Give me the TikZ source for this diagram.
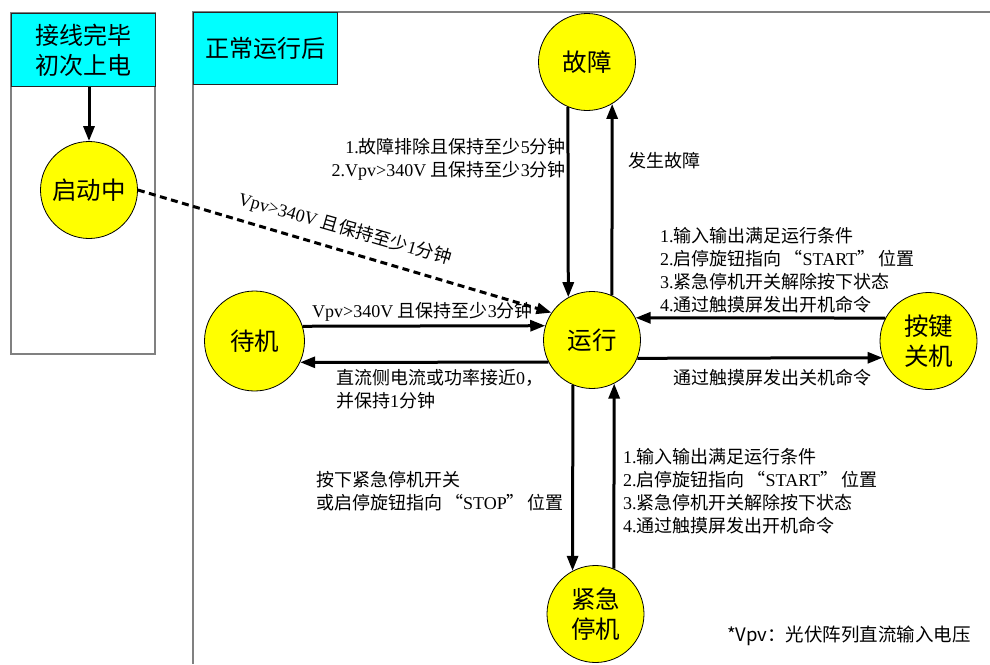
\documentclass[tikz,border=0pt]{standalone}
\usepackage{fontspec}
\setmainfont{Liberation Serif}
\newfontfamily\cjk{Noto Sans CJK SC}
\usetikzlibrary{arrows.meta}
\definecolor{stcyan}{HTML}{00FFFF}
\definecolor{styellow}{HTML}{FFFF00}
\definecolor{framegray}{HTML}{808080}
\tikzset{
  st/.style={circle,draw=black,line width=0.8pt,fill=styellow,inner sep=0pt,
    minimum size=97pt,font=\fontsize{24.5}{30}\selectfont\cjk,align=center},
  arr/.style={line width=3pt,-{Triangle[length=15pt,width=11pt]}},
  dasharr/.style={line width=3pt,dash pattern=on 7pt off 4.5pt,-{Triangle[length=15pt,width=11pt]}},
  lbl/.style={inner sep=0pt,font=\fontsize{18}{23}\selectfont,align=left},
  hdr/.style={draw=black!85,line width=1pt,fill=stcyan,inner sep=0pt,
    font=\fontsize{24}{30}\selectfont\cjk,align=center,anchor=north west},
  panel/.style={draw=framegray,line width=1.6pt}
}
\begin{document}
\begin{tikzpicture}[x=1pt,y=-1pt]
\useasboundingbox (0,0) rectangle (990,664);
% left panel
\draw[panel] (11,13) rectangle (155,354);
\node[hdr,minimum width=144pt,minimum height=73pt] (hL) at (11,13) {接线完毕\\初次上电};
% right panel
\draw[panel] (990,12) -- (193,12) -- (193,664);
\node[hdr,minimum width=144pt,minimum height=72pt] (hR) at (193,12) {正常运行后};
% states
\node[st] (qd) at (89,190) {启动中};
\node[st] (gz) at (587,62) {故障};
\node[st,minimum size=100pt] (dj) at (254.5,341) {待机};
\node[st] (yx) at (592,340) {运行};
\node[st] (aj) at (928.5,341) {按键\\关机};
\node[st] (jj) at (595.5,614) {紧急\\停机};
% connectors
\draw[arr] (qd |- hL.south) -- (qd.north);
\draw[dasharr] (qd.east) -- (yx.146);
\draw[arr] (gz.-113) -- (yx.119);
\draw[arr] (yx.66) -- (gz.-59);
\draw[arr] (dj.17) -- (yx.163);
\draw[arr] (yx.-153) -- (dj.-25);
\draw[arr] (aj.152) -- (yx.27);
\draw[arr] (yx.-22) -- (aj.-160);
\draw[arr] (yx.-113) -- (jj.118);
\draw[arr] (jj.68) -- (yx.-63);
% labels
\node[lbl,align=right,anchor=east] (l1) at (566,159.5)
  {1.{\cjk 故障排除且保持至少}5{\cjk 分钟}\\2.Vpv>340V {\cjk 且保持至少}3{\cjk 分钟}};
\node[lbl,anchor=west] (l2) at (628,161) {\cjk 发生故障};
\node[lbl,rotate=-16] (l3) at (345,229) {Vpv>340V {\cjk 且保持至少}1{\cjk 分钟}};
\node[lbl,anchor=west] (l4) at (312,312) {Vpv>340V {\cjk 且保持至少}3{\cjk 分钟}};
\node[lbl,anchor=west] (l5) at (336,389.5)
  {{\cjk 直流侧电流或功率接近}0{\cjk ，}\\{\cjk 并保持}1{\cjk 分钟}};
\node[lbl,anchor=west] (l6) at (316,491)
  {{\cjk 按下紧急停机开关}\\{\cjk 或启停旋钮指向\,“}STOP{\cjk ”\,位置}};
\node[lbl,anchor=west] (l7) at (660,270)
  {1.{\cjk 输入输出满足运行条件}\\2.{\cjk 启停旋钮指向\,“}START{\cjk ”\,位置}\\3.{\cjk 紧急停机开关解除按下状态}\\4.{\cjk 通过触摸屏发出开机命令}};
\node[lbl,anchor=west] (l8) at (673,378) {\cjk 通过触摸屏发出关机命令};
\node[lbl,anchor=west] (l9) at (623,491)
  {1.{\cjk 输入输出满足运行条件}\\2.{\cjk 启停旋钮指向\,“}START{\cjk ”\,位置}\\3.{\cjk 紧急停机开关解除按下状态}\\4.{\cjk 通过触摸屏发出开机命令}};
\node[inner sep=0pt,anchor=west,font=\fontsize{18.5}{22}\selectfont\cjk] (fn) at (727,636)
  {*Vpv：光伏阵列直流输入电压};
\end{tikzpicture}
\end{document}
